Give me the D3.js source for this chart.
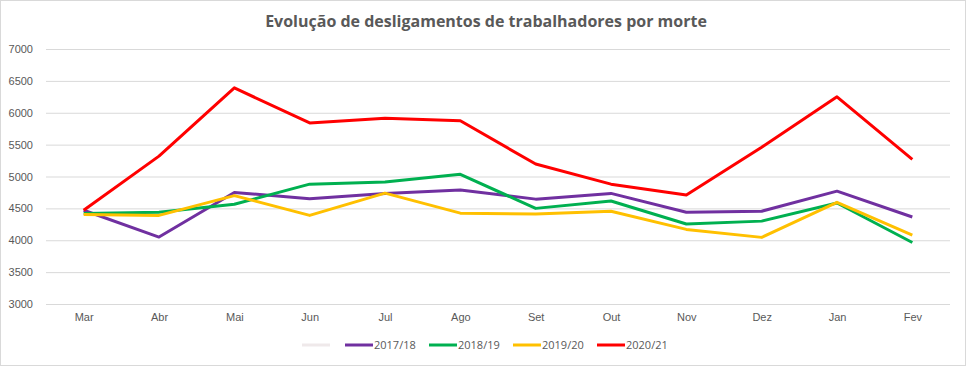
<!DOCTYPE html>
<meta charset="utf-8">
<script src="https://cdn.jsdelivr.net/npm/d3@7"></script>
<style>
    body { margin: 0; background: #fff; }
    svg { font-family: "Open Sans", "DejaVu Sans", sans-serif; }
    .grid line { stroke: #d9d9d9; stroke-width: 1; }
    .tick text { fill: #595959; font-size: 11px; }
</style>
<body>
<div id="chart"></div>
<script>
    // months (Mar..Fev)
    const months = ["Mar", "Abr", "Mai", "Jun", "Jul", "Ago", "Set", "Out", "Nov", "Dez", "Jan", "Fev"];
    const yTicks = [3000, 3500, 4000, 4500, 5000, 5500, 6000, 6500, 7000];

    const s1718 = [4470, 4050, 4750, 4650, 4735, 4790, 4645, 4735, 4440, 4455, 4770, 4365];
    const s1819 = [4420, 4440, 4565, 4880, 4915, 5035, 4500, 4615, 4255, 4300, 4585, 3965];
    const s1920 = [4405, 4390, 4700, 4390, 4740, 4425, 4410, 4455, 4170, 4045, 4595, 4080];
    const s2021 = [4470, 5320, 6390, 5840, 5915, 5875, 5195, 4880, 4710, 5460, 6250, 5270];

    const seriesNames = ["2017/18", "2018/19", "2019/20", "2020/21"];
    const seriesColors = ["#7030A0", "#00B050", "#FFC000", "#FF0000"];
    const seriesData = [s1718, s1819, s1920, s2021];

    const W = 966, H = 366;
    const margin = {top: 49, right: 16, bottom: 62, left: 46};

    const svg = d3.select("#chart").append("svg")
        .attr("width", W)
        .attr("height", H);

    // chart frame
    svg.append("rect")
        .attr("x", 0.5).attr("y", 0.5)
        .attr("width", W - 1).attr("height", H - 1)
        .attr("fill", "#fff")
        .attr("stroke", "#d9d9d9");

    svg.append("text")
        .attr("x", W / 2 + 3)
        .attr("y", 27)
        .attr("text-anchor", "middle")
        .attr("fill", "#595959")
        .style("font-size", "16px")
        .style("font-weight", "bold")
        .text("Evolução de desligamentos de trabalhadores por morte");

    const x = d3.scalePoint()
        .domain(months)
        .range([margin.left, W - margin.right])
        .padding(0.5);

    const y = d3.scaleLinear()
        .domain([3000, 7000])
        .range([H - margin.bottom, margin.top]);

    // gridlines + y labels
    const yAxis = svg.append("g")
        .attr("class", "grid")
        .attr("transform", "translate(" + margin.left + ",0)")
        .call(d3.axisLeft(y)
            .tickValues(yTicks)
            .tickSize(-(W - margin.left - margin.right))
            .tickPadding(13)
            .tickFormat(d3.format("d")));
    yAxis.select(".domain").remove();
    yAxis.selectAll(".tick line").attr("stroke", "#d9d9d9");

    const xAxis = svg.append("g")
        .attr("transform", "translate(0," + (H - margin.bottom) + ")")
        .call(d3.axisBottom(x).tickSize(0).tickPadding(9));
    xAxis.select(".domain").remove();

    const line = d3.line()
        .x((d, i) => x(months[i]))
        .y(d => y(d));

    svg.append("g")
        .selectAll("path")
        .data(seriesData)
        .enter().append("path")
        .attr("d", line)
        .attr("fill", "none")
        .attr("stroke", (d, i) => seriesColors[i])
        .attr("stroke-width", 3)
        .attr("stroke-linejoin", "round");

    // legend
    const legend = svg.append("g").attr("transform", "translate(302,345)");
    legend.append("line")
        .attr("x1", 0).attr("x2", 28)
        .attr("stroke", "#efe9ea").attr("stroke-width", 3);

    const items = legend.selectAll("g.item")
        .data(seriesNames)
        .enter().append("g")
        .attr("class", "item")
        .attr("transform", (d, i) => "translate(" + (43 + i * 84) + ",0)");
    items.append("line")
        .attr("x1", 0).attr("x2", 28)
        .attr("stroke", (d, i) => seriesColors[i])
        .attr("stroke-width", 3);
    items.append("text")
        .attr("x", 29)
        .attr("y", 4)
        .attr("fill", "#595959")
        .style("font-size", "11px")
        .text(d => d);
</script>
</body>
</html>
